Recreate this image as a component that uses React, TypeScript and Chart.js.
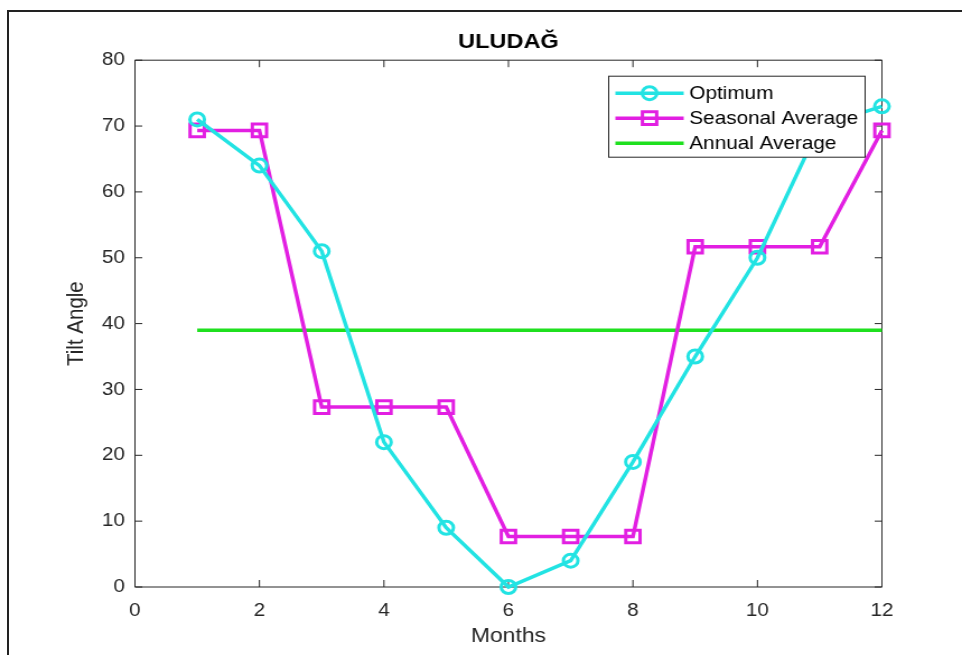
import React, { useEffect, useRef } from 'react';
import { Chart, registerables } from 'chart.js';

Chart.register(...registerables);

// ---- data ----
const months = [1, 2, 3, 4, 5, 6, 7, 8, 9, 10, 11, 12];
const optimum = [71, 64, 51, 22, 9, 0, 4, 19, 35, 50, 70, 73];
const seasonalAverage = [69.33, 69.33, 27.33, 27.33, 27.33, 7.67, 7.67, 7.67, 51.67, 51.67, 51.67, 69.33];
const annualAverage = [39, 39, 39, 39, 39, 39, 39, 39, 39, 39, 39, 39];
const xTickValues = [0, 2, 4, 6, 8, 10, 12];
const yTickValues = [0, 10, 20, 30, 40, 50, 60, 70, 80];
const seriesLabels = ['Optimum', 'Seasonal Average', 'Annual Average'];
const chartTitle = 'ULUDAĞ';
const xTitle = 'Months';
const yTitle = 'Tilt Angle';

// ---- styling ----
const FONT = '"Liberation Sans", Arial, Helvetica, sans-serif';
const SX = 1.12; // horizontal stretch of the reference picture
const CANVAS_W = Math.round(962 / SX);
const CANVAS_H = 655;
const AXIS_COLOR = '#262626';
const CYAN = '#22e3e3';
const MAGENTA = '#e21fe2';
const GREEN = '#1fe01f';

const toPoints = (ys: number[]) => months.map((m, i) => ({ x: m, y: ys[i] }));

const axesPlugin = {
  id: 'matlabAxes',
  beforeDatasetsDraw(chart: any) {
    const { ctx, chartArea: a, scales } = chart;
    const xs = scales.x;
    const ys = scales.y;
    ctx.save();
    ctx.strokeStyle = AXIS_COLOR;
    ctx.lineWidth = 1;
    ctx.beginPath();
    ctx.rect(a.left, a.top, a.right - a.left, a.bottom - a.top);
    xs.ticks.forEach((t: any) => {
      const px = xs.getPixelForValue(t.value);
      ctx.moveTo(px, a.bottom);
      ctx.lineTo(px, a.bottom - 7);
      ctx.moveTo(px, a.top);
      ctx.lineTo(px, a.top + 7);
    });
    ys.ticks.forEach((t: any) => {
      const py = ys.getPixelForValue(t.value);
      ctx.moveTo(a.left, py);
      ctx.lineTo(a.left + 6.5, py);
      ctx.moveTo(a.right, py);
      ctx.lineTo(a.right - 6.5, py);
    });
    ctx.stroke();
    ctx.restore();
  },
};

function drawMarker(ctx: CanvasRenderingContext2D, style: string, x: number, y: number, r: number) {
  ctx.beginPath();
  if (style === 'circle') {
    ctx.arc(x, y, r, 0, Math.PI * 2);
  } else if (style === 'rect') {
    const s = r * Math.SQRT1_2;
    ctx.rect(x - s, y - s, 2 * s, 2 * s);
  }
  ctx.stroke();
}

const legendPlugin = {
  id: 'matlabLegend',
  afterDraw(chart: any) {
    const { ctx, chartArea: a } = chart;
    const w = 229;
    const h = 81;
    const right = a.right - 15;
    const left = right - w;
    const top = a.top + 16;
    ctx.save();
    ctx.fillStyle = '#ffffff';
    ctx.fillRect(left, top, w, h);
    ctx.strokeStyle = AXIS_COLOR;
    ctx.lineWidth = 1;
    ctx.strokeRect(left, top, w, h);
    chart.data.datasets.forEach((ds: any, i: number) => {
      const y = top + 17 + i * 25;
      ctx.strokeStyle = ds.borderColor;
      ctx.lineWidth = ds.borderWidth;
      ctx.beginPath();
      ctx.moveTo(left + 6, y);
      ctx.lineTo(left + 67, y);
      ctx.stroke();
      if (ds.pointRadius > 0) {
        ctx.lineWidth = ds.pointBorderWidth;
        drawMarker(ctx, ds.pointStyle, left + 36.5, y, ds.pointRadius);
      }
      ctx.fillStyle = '#000000';
      ctx.font = `18.5px ${FONT}`;
      ctx.textAlign = 'left';
      ctx.textBaseline = 'middle';
      ctx.fillText(ds.label, left + 72, y + 1);
    });
    ctx.restore();
  },
};

export default function App() {
  const canvasRef = useRef<HTMLCanvasElement | null>(null);

  useEffect(() => {
    if (!canvasRef.current) return;
    const L = 49;
    const chart = new Chart(canvasRef.current, {
      type: 'line',
      data: {
        datasets: [
          {
            label: seriesLabels[0],
            data: toPoints(optimum),
            borderColor: CYAN,
            backgroundColor: 'rgba(0,0,0,0)',
            borderWidth: 3.5,
            pointStyle: 'circle',
            pointRadius: 6.5,
            pointBorderWidth: 3,
            pointBorderColor: CYAN,
            pointBackgroundColor: 'rgba(0,0,0,0)',
            tension: 0,
            clip: false,
          },
          {
            label: seriesLabels[1],
            data: toPoints(seasonalAverage),
            borderColor: MAGENTA,
            backgroundColor: 'rgba(0,0,0,0)',
            borderWidth: 3.5,
            pointStyle: 'rect',
            pointRadius: 9,
            pointBorderWidth: 3,
            pointBorderColor: MAGENTA,
            pointBackgroundColor: 'rgba(0,0,0,0)',
            tension: 0,
            clip: false,
          },
          {
            label: seriesLabels[2],
            data: toPoints(annualAverage),
            borderColor: GREEN,
            backgroundColor: 'rgba(0,0,0,0)',
            borderWidth: 3.5,
            pointRadius: 0,
            pointBorderWidth: 0,
            tension: 0,
            clip: false,
          },
        ] as any,
      },
      options: {
        animation: false,
        responsive: false,
        devicePixelRatio: 1,
        events: [],
        layout: { padding: { left: L, right: 0, top: 0, bottom: 0 } },
        plugins: {
          legend: { display: false },
          tooltip: { enabled: false },
          title: {
            display: true,
            text: chartTitle,
            color: '#000000',
            font: { family: FONT, size: 21, weight: 'bold' },
            padding: { top: 30, bottom: 5 },
          },
        },
        scales: {
          x: {
            type: 'linear',
            position: 'bottom',
            min: 0,
            max: 12,
            afterBuildTicks: (s: any) => {
              s.ticks = xTickValues.map((v) => ({ value: v }));
            },
            afterFit: (s: any) => {
              s.height = 68;
            },
            grid: { display: false, drawTicks: false },
            border: { display: false },
            ticks: {
              color: AXIS_COLOR,
              font: { family: FONT, size: 18.5 },
              padding: 13,
              maxRotation: 0,
              autoSkip: false,
            },
            title: {
              display: true,
              text: xTitle,
              color: AXIS_COLOR,
              font: { family: FONT, size: 20.5 },
              padding: { top: 0, bottom: 6 },
            },
          },
          y: {
            type: 'linear',
            position: 'left',
            min: 0,
            max: 80,
            afterBuildTicks: (s: any) => {
              s.ticks = yTickValues.map((v) => ({ value: v }));
            },
            afterFit: (s: any) => {
              s.width = 120.5 - L;
            },
            grid: { display: false, drawTicks: false },
            border: { display: false },
            ticks: {
              color: AXIS_COLOR,
              font: { family: FONT, size: 18.5 },
              padding: 9,
              autoSkip: false,
            },
            title: {
              display: true,
              text: yTitle,
              color: AXIS_COLOR,
              font: { family: FONT, size: 20.5 },
              padding: { top: 7, bottom: 0 },
            },
          },
          y2: {
            type: 'linear',
            position: 'right',
            min: 0,
            max: 80,
            afterFit: (s: any) => {
              s.width = CANVAS_W - 787.5;
            },
            grid: { display: false, drawTicks: false },
            border: { display: false },
            ticks: { display: false },
          },
        },
      } as any,
      plugins: [axesPlugin, legendPlugin],
    });
    return () => chart.destroy();
  }, []);

  return (
    <div style={{ position: 'absolute', left: 0, top: 0, width: 962, height: 655, overflow: 'hidden', background: '#fff' }}>
      <canvas
        ref={canvasRef}
        width={CANVAS_W}
        height={CANVAS_H}
        style={{ width: '962px', height: '655px', display: 'block' }}
      />
      <div
        style={{
          position: 'absolute',
          left: 7,
          top: 10,
          width: 962,
          height: 655,
          borderLeft: '2px solid #222',
          borderTop: '2px solid #222',
          pointerEvents: 'none',
        }}
      />
    </div>
  );
}
